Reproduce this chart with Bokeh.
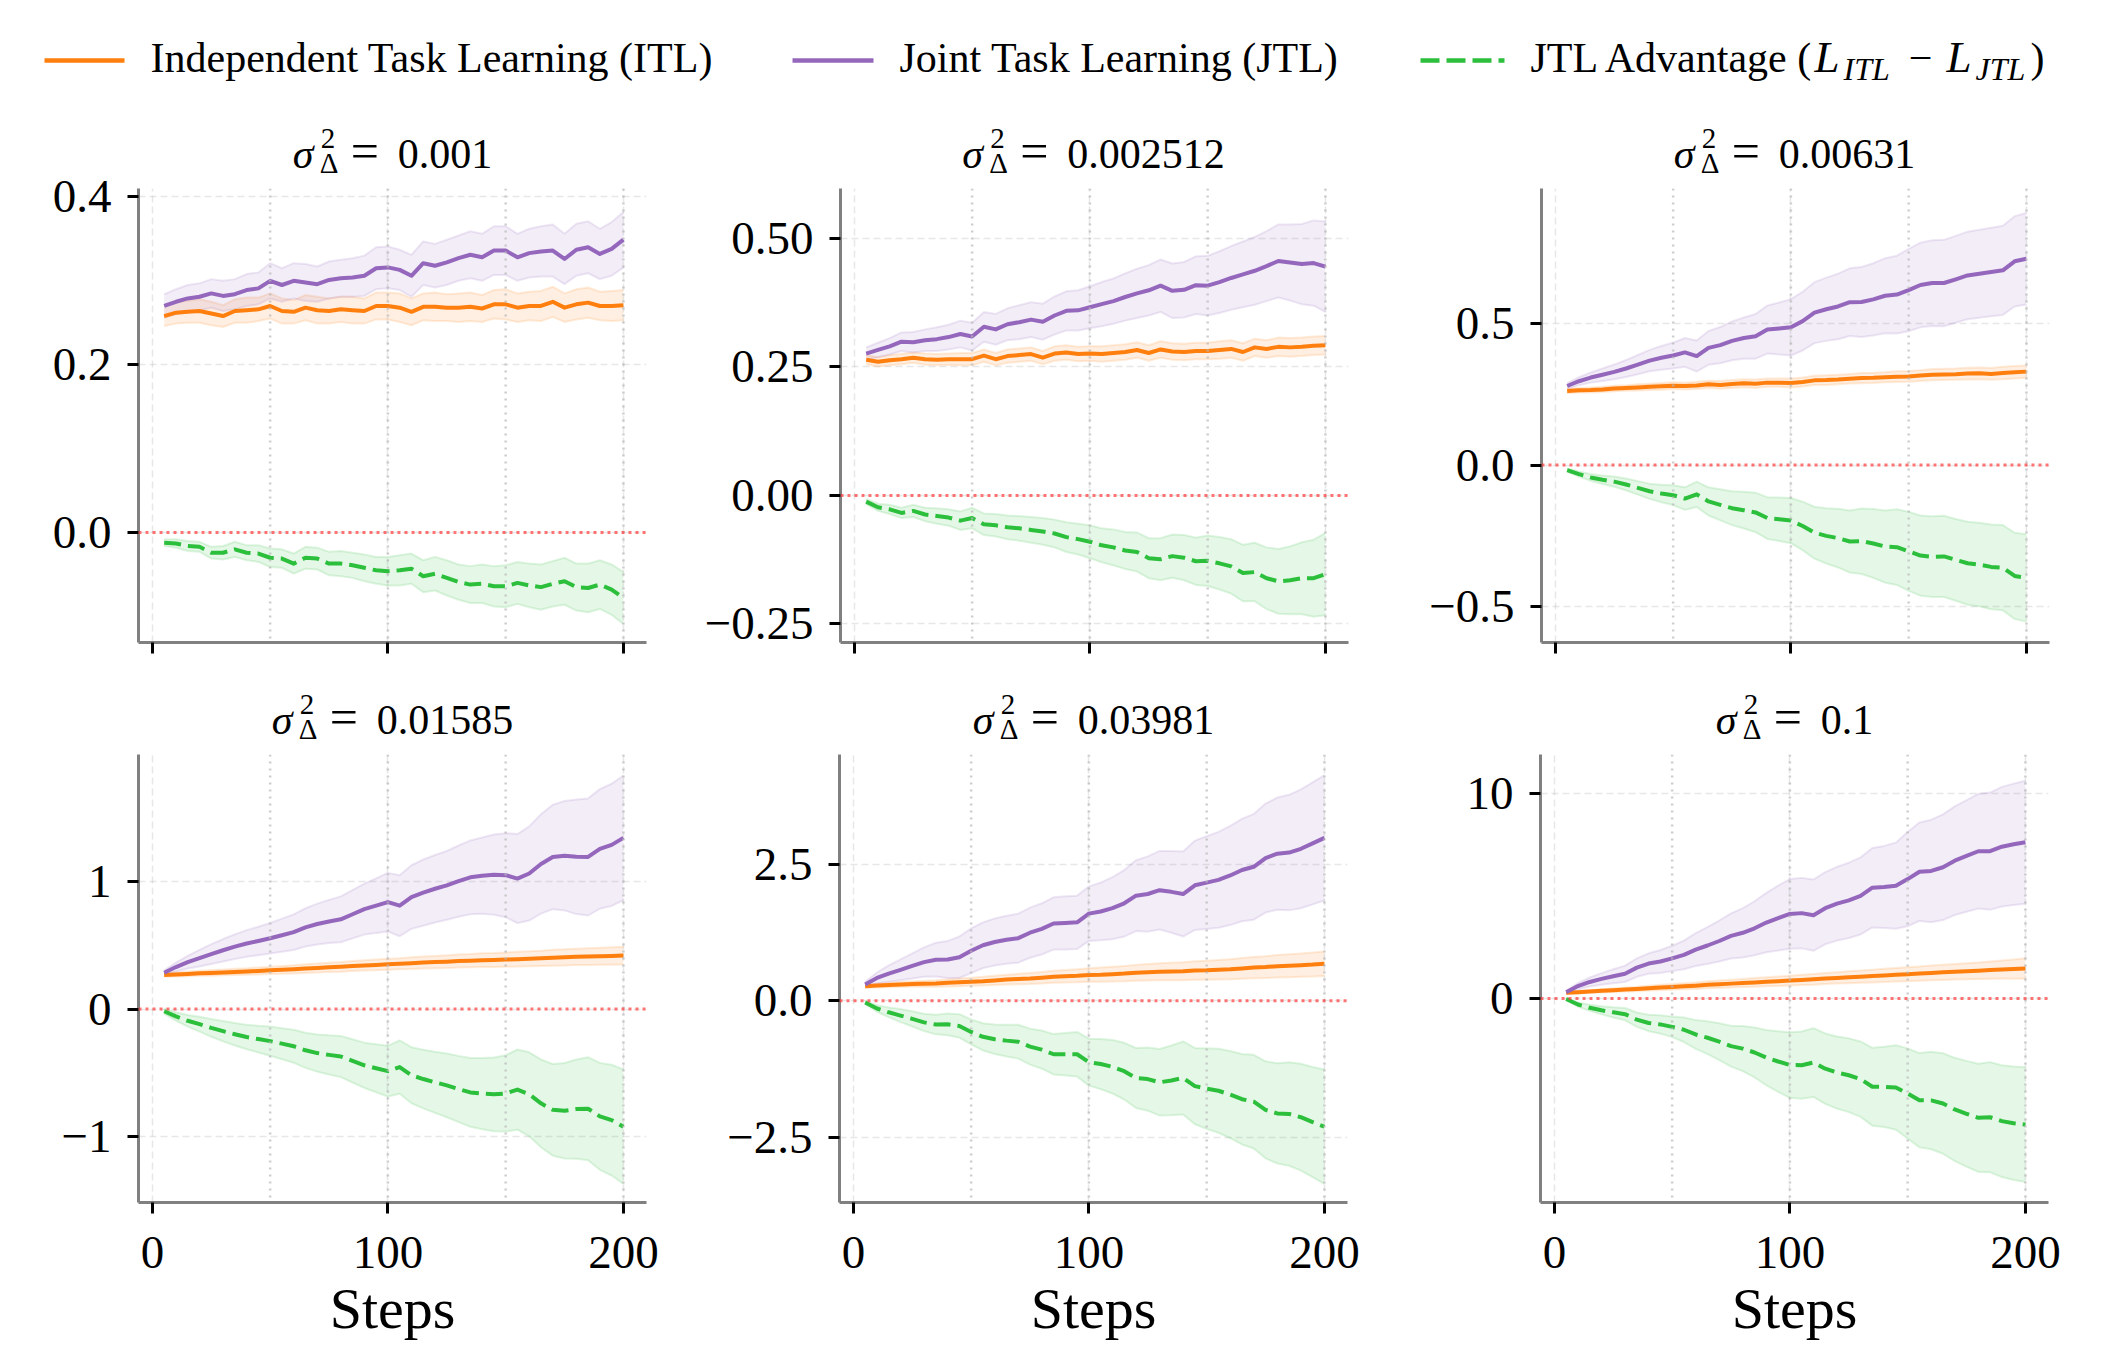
import numpy as np
from bokeh.plotting import figure
from bokeh.models import Range1d, FixedTicker, Span, Label, ColumnDataSource
from bokeh.layouts import column, row
from bokeh.embed import file_html
from bokeh.resources import INLINE

# ---------------------------------------------------------------- data
STEPS = list(range(5, 205, 5))
VARIANCES = ["0.001", "0.002512", "0.00631", "0.01585", "0.03981", "0.1"]

# sigma^2 = 0.001
itl_a = [0.258, 0.262, 0.263, 0.264, 0.261, 0.258, 0.264, 0.265, 0.266, 0.270,
         0.264, 0.263, 0.268, 0.265, 0.264, 0.266, 0.265, 0.264, 0.270, 0.270,
         0.268, 0.263, 0.269, 0.269, 0.268, 0.268, 0.269, 0.267, 0.272, 0.272,
         0.268, 0.270, 0.270, 0.275, 0.268, 0.272, 0.274, 0.270, 0.270, 0.271]
jtl_a = [0.270, 0.275, 0.279, 0.281, 0.285, 0.282, 0.284, 0.289, 0.291, 0.300,
         0.295, 0.300, 0.298, 0.296, 0.301, 0.303, 0.304, 0.306, 0.315, 0.316,
         0.313, 0.306, 0.321, 0.318, 0.322, 0.327, 0.331, 0.328, 0.336, 0.336,
         0.328, 0.333, 0.335, 0.336, 0.326, 0.337, 0.340, 0.332, 0.338, 0.349]
itl_sd_a = [0.012, 0.013, 0.013, 0.014, 0.014, 0.013, 0.014, 0.015, 0.014, 0.015,
            0.015, 0.014, 0.015, 0.016, 0.015, 0.015, 0.016, 0.015, 0.016, 0.016,
            0.017, 0.016, 0.016, 0.017, 0.016, 0.017, 0.017, 0.016, 0.017, 0.018,
            0.017, 0.017, 0.018, 0.018, 0.017, 0.018, 0.018, 0.017, 0.018, 0.018]
jtl_sd_a = [0.014, 0.015, 0.016, 0.016, 0.017, 0.018, 0.018, 0.019, 0.019, 0.021,
            0.020, 0.021, 0.022, 0.021, 0.022, 0.022, 0.023, 0.024, 0.025, 0.025,
            0.024, 0.025, 0.026, 0.026, 0.027, 0.027, 0.028, 0.028, 0.029, 0.029,
            0.028, 0.029, 0.030, 0.031, 0.030, 0.031, 0.031, 0.030, 0.032, 0.033]
adv_sd_a = [0.004, 0.005, 0.006, 0.006, 0.007, 0.008, 0.009, 0.009, 0.010, 0.011,
            0.011, 0.012, 0.013, 0.013, 0.014, 0.015, 0.015, 0.016, 0.016, 0.017,
            0.018, 0.018, 0.019, 0.020, 0.021, 0.021, 0.022, 0.023, 0.024, 0.025,
            0.025, 0.026, 0.027, 0.027, 0.028, 0.028, 0.029, 0.029, 0.030, 0.031]

# sigma^2 = 0.002512
itl_b = [0.264, 0.260, 0.263, 0.265, 0.268, 0.265, 0.264, 0.265, 0.265, 0.265,
         0.272, 0.265, 0.271, 0.273, 0.275, 0.268, 0.276, 0.278, 0.275, 0.276,
         0.275, 0.277, 0.279, 0.283, 0.277, 0.284, 0.280, 0.279, 0.281, 0.281,
         0.283, 0.285, 0.279, 0.288, 0.285, 0.289, 0.288, 0.289, 0.291, 0.292]
jtl_b = [0.276, 0.283, 0.290, 0.299, 0.298, 0.302, 0.304, 0.308, 0.314, 0.309,
         0.328, 0.323, 0.333, 0.337, 0.342, 0.338, 0.350, 0.359, 0.360, 0.366,
         0.372, 0.378, 0.386, 0.393, 0.399, 0.408, 0.398, 0.400, 0.409, 0.408,
         0.415, 0.423, 0.430, 0.437, 0.446, 0.456, 0.453, 0.450, 0.452, 0.445]
itl_sd_b = [0.009, 0.009, 0.010, 0.010, 0.010, 0.011, 0.011, 0.011, 0.012, 0.012,
            0.012, 0.012, 0.013, 0.013, 0.013, 0.013, 0.014, 0.014, 0.014, 0.014,
            0.015, 0.015, 0.015, 0.015, 0.015, 0.016, 0.016, 0.016, 0.016, 0.016,
            0.017, 0.017, 0.017, 0.017, 0.017, 0.018, 0.018, 0.018, 0.018, 0.018]
jtl_sd_b = [0.012, 0.014, 0.016, 0.018, 0.020, 0.021, 0.023, 0.024, 0.026, 0.027,
            0.029, 0.030, 0.031, 0.033, 0.034, 0.035, 0.037, 0.038, 0.039, 0.041,
            0.043, 0.044, 0.046, 0.048, 0.049, 0.051, 0.053, 0.054, 0.056, 0.058,
            0.060, 0.062, 0.064, 0.066, 0.068, 0.071, 0.074, 0.078, 0.083, 0.088]
adv_sd_b = [0.005, 0.007, 0.009, 0.010, 0.012, 0.013, 0.015, 0.016, 0.018, 0.020,
            0.021, 0.022, 0.023, 0.024, 0.025, 0.026, 0.027, 0.029, 0.030, 0.032,
            0.033, 0.035, 0.036, 0.038, 0.039, 0.041, 0.042, 0.044, 0.046, 0.049,
            0.051, 0.053, 0.055, 0.057, 0.060, 0.063, 0.066, 0.070, 0.075, 0.080]

# sigma^2 = 0.00631
itl_c = [0.262, 0.265, 0.266, 0.268, 0.271, 0.273, 0.275, 0.277, 0.279, 0.281,
         0.280, 0.282, 0.286, 0.284, 0.287, 0.290, 0.288, 0.292, 0.292, 0.291,
         0.294, 0.300, 0.301, 0.303, 0.306, 0.308, 0.309, 0.311, 0.313, 0.314,
         0.317, 0.320, 0.321, 0.322, 0.324, 0.325, 0.323, 0.326, 0.329, 0.331]
jtl_c = [0.280, 0.297, 0.310, 0.320, 0.330, 0.342, 0.356, 0.370, 0.380, 0.388,
         0.399, 0.386, 0.415, 0.425, 0.440, 0.450, 0.456, 0.480, 0.484, 0.488,
         0.510, 0.540, 0.552, 0.562, 0.577, 0.578, 0.587, 0.600, 0.604, 0.620,
         0.638, 0.645, 0.645, 0.658, 0.672, 0.678, 0.684, 0.690, 0.722, 0.731]
itl_sd_c = [0.008, 0.008, 0.009, 0.009, 0.010, 0.010, 0.011, 0.011, 0.012, 0.012,
            0.012, 0.013, 0.013, 0.014, 0.014, 0.014, 0.015, 0.015, 0.015, 0.016,
            0.016, 0.016, 0.017, 0.017, 0.017, 0.018, 0.018, 0.018, 0.019, 0.019,
            0.019, 0.020, 0.020, 0.020, 0.021, 0.021, 0.021, 0.022, 0.022, 0.022]
jtl_sd_c = [0.010, 0.014, 0.018, 0.022, 0.026, 0.030, 0.034, 0.038, 0.042, 0.046,
            0.051, 0.055, 0.060, 0.064, 0.069, 0.073, 0.079, 0.085, 0.092, 0.100,
            0.104, 0.108, 0.112, 0.116, 0.120, 0.124, 0.128, 0.133, 0.138, 0.146,
            0.150, 0.152, 0.153, 0.154, 0.155, 0.156, 0.157, 0.158, 0.160, 0.162]
adv_sd_c = [0.006, 0.009, 0.012, 0.015, 0.018, 0.021, 0.024, 0.027, 0.031, 0.035,
            0.040, 0.045, 0.050, 0.055, 0.060, 0.065, 0.070, 0.074, 0.077, 0.080,
            0.086, 0.092, 0.098, 0.104, 0.110, 0.116, 0.122, 0.128, 0.134, 0.140,
            0.142, 0.143, 0.144, 0.145, 0.147, 0.148, 0.150, 0.151, 0.153, 0.155]

# sigma^2 = 0.01585
itl_d = [0.268, 0.272, 0.276, 0.281, 0.284, 0.288, 0.292, 0.295, 0.299, 0.304,
         0.308, 0.312, 0.318, 0.322, 0.328, 0.332, 0.338, 0.343, 0.347, 0.352,
         0.356, 0.360, 0.365, 0.369, 0.372, 0.377, 0.380, 0.384, 0.386, 0.389,
         0.392, 0.395, 0.399, 0.403, 0.406, 0.410, 0.412, 0.415, 0.417, 0.420]
jtl_d = [0.285, 0.330, 0.368, 0.400, 0.432, 0.462, 0.490, 0.515, 0.535, 0.556,
         0.580, 0.604, 0.642, 0.668, 0.688, 0.705, 0.745, 0.785, 0.812, 0.840,
         0.812, 0.880, 0.915, 0.945, 0.972, 1.005, 1.035, 1.048, 1.056, 1.052,
         1.025, 1.065, 1.140, 1.195, 1.205, 1.196, 1.195, 1.258, 1.290, 1.345]
itl_sd_d = [0.015, 0.017, 0.019, 0.020, 0.022, 0.023, 0.025, 0.026, 0.028, 0.029,
            0.031, 0.032, 0.034, 0.035, 0.036, 0.038, 0.039, 0.040, 0.042, 0.043,
            0.044, 0.046, 0.047, 0.048, 0.050, 0.051, 0.052, 0.054, 0.055, 0.056,
            0.058, 0.059, 0.060, 0.062, 0.063, 0.064, 0.066, 0.067, 0.068, 0.070]
jtl_sd_d = [0.020, 0.035, 0.050, 0.065, 0.078, 0.088, 0.097, 0.105, 0.112, 0.120,
            0.130, 0.140, 0.150, 0.160, 0.170, 0.180, 0.190, 0.200, 0.215, 0.230,
            0.240, 0.250, 0.260, 0.265, 0.270, 0.280, 0.290, 0.300, 0.315, 0.330,
            0.350, 0.370, 0.390, 0.410, 0.430, 0.450, 0.460, 0.470, 0.480, 0.490]
adv_sd_d = [0.020, 0.033, 0.046, 0.058, 0.070, 0.080, 0.088, 0.096, 0.105, 0.115,
            0.122, 0.130, 0.138, 0.146, 0.154, 0.162, 0.170, 0.178, 0.189, 0.200,
            0.210, 0.220, 0.230, 0.240, 0.250, 0.260, 0.270, 0.280, 0.290, 0.300,
            0.315, 0.330, 0.345, 0.360, 0.375, 0.390, 0.405, 0.420, 0.435, 0.450]

# sigma^2 = 0.03981
itl_e = [0.27, 0.28, 0.29, 0.30, 0.31, 0.315, 0.32, 0.33, 0.34, 0.35,
         0.36, 0.375, 0.39, 0.40, 0.41, 0.425, 0.44, 0.45, 0.46, 0.475,
         0.48, 0.49, 0.50, 0.515, 0.525, 0.535, 0.54, 0.545, 0.555, 0.56,
         0.57, 0.58, 0.595, 0.61, 0.62, 0.635, 0.645, 0.655, 0.665, 0.68]
jtl_e = [0.30, 0.42, 0.50, 0.57, 0.64, 0.71, 0.755, 0.76, 0.80, 0.92,
         1.02, 1.08, 1.12, 1.15, 1.25, 1.32, 1.42, 1.43, 1.44, 1.60,
         1.64, 1.70, 1.79, 1.93, 1.96, 2.03, 2.00, 1.96, 2.12, 2.17,
         2.22, 2.30, 2.40, 2.46, 2.62, 2.70, 2.72, 2.79, 2.89, 2.99]
itl_sd_e = [0.03, 0.035, 0.04, 0.045, 0.05, 0.055, 0.06, 0.065, 0.07, 0.075,
            0.08, 0.085, 0.09, 0.095, 0.10, 0.105, 0.11, 0.115, 0.12, 0.125,
            0.13, 0.135, 0.14, 0.145, 0.15, 0.155, 0.16, 0.165, 0.17, 0.175,
            0.18, 0.185, 0.19, 0.195, 0.20, 0.205, 0.21, 0.215, 0.22, 0.225]
jtl_sd_e = [0.05, 0.10, 0.15, 0.19, 0.23, 0.27, 0.31, 0.34, 0.38, 0.41,
            0.42, 0.43, 0.44, 0.45, 0.46, 0.47, 0.48, 0.49, 0.49, 0.50,
            0.53, 0.57, 0.61, 0.65, 0.69, 0.72, 0.75, 0.78, 0.82, 0.85,
            0.88, 0.91, 0.94, 0.97, 1.00, 1.03, 1.06, 1.09, 1.12, 1.15]
adv_sd_e = [0.03, 0.06, 0.09, 0.12, 0.14, 0.16, 0.18, 0.20, 0.215, 0.23,
            0.25, 0.27, 0.29, 0.31, 0.33, 0.35, 0.37, 0.39, 0.41, 0.43,
            0.46, 0.49, 0.52, 0.55, 0.58, 0.61, 0.64, 0.67, 0.70, 0.74,
            0.77, 0.80, 0.83, 0.86, 0.89, 0.92, 0.95, 0.98, 1.01, 1.05]

# sigma^2 = 0.1
itl_f = [0.27, 0.30, 0.34, 0.37, 0.40, 0.43, 0.46, 0.50, 0.53, 0.56,
         0.59, 0.62, 0.66, 0.69, 0.72, 0.75, 0.78, 0.81, 0.84, 0.87,
         0.90, 0.93, 0.97, 1.00, 1.03, 1.06, 1.09, 1.12, 1.15, 1.18,
         1.21, 1.24, 1.27, 1.30, 1.32, 1.35, 1.38, 1.41, 1.43, 1.46]
jtl_f = [0.30, 0.60, 0.80, 0.95, 1.08, 1.20, 1.50, 1.70, 1.80, 1.95,
         2.12, 2.38, 2.58, 2.80, 3.05, 3.20, 3.42, 3.70, 3.92, 4.12,
         4.16, 4.06, 4.40, 4.62, 4.78, 5.00, 5.40, 5.44, 5.50, 5.82,
         6.18, 6.22, 6.40, 6.72, 6.95, 7.18, 7.18, 7.40, 7.52, 7.62]
itl_sd_f = [0.05, 0.06, 0.07, 0.08, 0.09, 0.10, 0.11, 0.12, 0.13, 0.14,
            0.15, 0.16, 0.17, 0.18, 0.19, 0.20, 0.21, 0.22, 0.23, 0.24,
            0.25, 0.26, 0.27, 0.28, 0.29, 0.30, 0.31, 0.32, 0.33, 0.34,
            0.35, 0.36, 0.37, 0.38, 0.39, 0.40, 0.42, 0.44, 0.47, 0.50]
jtl_sd_f = [0.08, 0.15, 0.22, 0.28, 0.34, 0.40, 0.45, 0.50, 0.56, 0.62,
            0.70, 0.80, 0.90, 1.00, 1.10, 1.20, 1.32, 1.45, 1.58, 1.70,
            1.72, 1.74, 1.76, 1.80, 1.84, 1.88, 1.94, 2.00, 2.10, 2.30,
            2.40, 2.50, 2.58, 2.65, 2.72, 2.80, 2.86, 2.92, 2.96, 3.00]
adv_sd_f = [0.05, 0.10, 0.15, 0.20, 0.25, 0.30, 0.35, 0.40, 0.45, 0.50,
            0.60, 0.70, 0.80, 0.90, 1.00, 1.10, 1.22, 1.35, 1.48, 1.60,
            1.64, 1.68, 1.72, 1.76, 1.80, 1.84, 1.90, 1.96, 2.06, 2.20,
            2.30, 2.38, 2.45, 2.52, 2.58, 2.64, 2.69, 2.73, 2.77, 2.80]

PANELS = [
    (itl_a, jtl_a, itl_sd_a, jtl_sd_a, adv_sd_a),
    (itl_b, jtl_b, itl_sd_b, jtl_sd_b, adv_sd_b),
    (itl_c, jtl_c, itl_sd_c, jtl_sd_c, adv_sd_c),
    (itl_d, jtl_d, itl_sd_d, jtl_sd_d, adv_sd_d),
    (itl_e, jtl_e, itl_sd_e, jtl_sd_e, adv_sd_e),
    (itl_f, jtl_f, itl_sd_f, jtl_sd_f, adv_sd_f),
]

X_LIMITS = (-5.9, 209.8)
X_TICKS = [0, 100, 200]
Y_LIMITS = [(-0.131, 0.41), (-0.286, 0.597), (-0.629, 0.98),
            (-1.52, 2.0), (-3.70, 4.52), (-9.96, 11.9)]
Y_TICKS = [[0.0, 0.2, 0.4], [-0.25, 0.0, 0.25, 0.5], [-0.5, 0.0, 0.5],
           [-1, 0, 1], [-2.5, 0, 2.5], [-10, 0, 10]]
Y_TICK_LABELS = [["0.0", "0.2", "0.4"], ["\u22120.25", "0.00", "0.25", "0.50"],
                 ["\u22120.5", "0.0", "0.5"], ["\u22121", "0", "1"],
                 ["\u22122.5", "0.0", "2.5"], ["\u221210", "0", "10"]]
MARKER_STEPS = [50, 100, 150, 200]

# ---------------------------------------------------------------- style / geometry
ORANGE = "#ff7f0e"
PURPLE = "#9467bd"
GREEN = "#2cbf3c"
SERIF = "Liberation Serif"

FRAME_W = 508
BORDER_L, BORDER_R = 138, 55
CELL_W = BORDER_L + FRAME_W + BORDER_R
PAGE_W = 3 * CELL_W
ROW_H = [454, 448]
PANEL_TOP = 8
PANEL_BOTTOM = [40, 146]
LEGEND_H = 110
TITLE_H = [70, 64]
MID = 0.33  # distance from text baseline to the middle of its box, in em


def strip(height):
    s = figure(frame_width=PAGE_W, frame_height=height, x_range=Range1d(0, PAGE_W),
               y_range=Range1d(0, height), output_backend="svg", toolbar_location=None,
               tools="", x_axis_type=None, y_axis_type=None,
               min_border_left=0, min_border_right=0, min_border_top=0, min_border_bottom=0)
    s.outline_line_color = None
    s.xgrid.visible = False
    s.ygrid.visible = False
    s.background_fill_color = "white"
    s.border_fill_color = "white"
    return s


def put(s, text, x, base, size, style="normal", align="left"):
    # base: baseline height above the strip's bottom edge, in px
    s.add_layout(Label(x=x, y=base + MID * size, text=text, text_font=SERIF,
                       text_font_size=f"{size}px", text_font_style=style,
                       text_align=align, text_baseline="middle", text_color="black"))


def number_width(s, size):
    return sum(0.25 * size if ch == "." else 0.5 * size for ch in s)


def title_strip(height, labels):
    s = strip(height)
    size = 42
    for j, var_text in enumerate(labels):
        centre = j * CELL_W + BORDER_L + FRAME_W / 2
        total = 105 + number_width(var_text, size)
        start = centre - total / 2
        base = 13
        put(s, "\u03c3", start, base, size, "italic")
        put(s, "2", start + 28, base + 19, 29)
        put(s, "\u0394", start + 27, base - 5, 29)
        put(s, "=", start + 72, base, 50, align="center")
        put(s, var_text, start + 105, base, size)
    return s


def make_panel(i):
    itl, jtl, itl_sd, jtl_sd, adv_sd = PANELS[i]
    r = 0 if i < 3 else 1
    h = ROW_H[r]
    y0, y1 = Y_LIMITS[i]
    p = figure(frame_width=FRAME_W, frame_height=h,
               x_range=Range1d(*X_LIMITS), y_range=Range1d(y0, y1),
               output_backend="svg", toolbar_location=None, tools="",
               min_border_left=BORDER_L, min_border_right=BORDER_R,
               min_border_top=PANEL_TOP, min_border_bottom=PANEL_BOTTOM[r])
    p.outline_line_color = None
    p.background_fill_color = "white"
    p.border_fill_color = "white"

    p.xaxis.ticker = FixedTicker(ticks=X_TICKS)
    p.yaxis.ticker = FixedTicker(ticks=Y_TICKS[i])
    p.yaxis.major_label_overrides = {float(v): s for v, s in zip(Y_TICKS[i], Y_TICK_LABELS[i])}
    for ax in (p.xaxis, p.yaxis):
        ax.axis_line_color = "#808080"
        ax.axis_line_width = 3
        ax.major_tick_line_color = "black"
        ax.major_tick_line_width = 3
        ax.major_tick_out = 11
        ax.major_tick_in = 0
        ax.minor_tick_line_color = None
        ax.major_label_text_font = SERIF
        ax.major_label_text_font_size = "47px"
        ax.major_label_text_color = "black"
    p.yaxis.major_label_standoff = 16
    if r == 0:
        # top row shares the step axis with the row below: ticks only
        p.xaxis.major_label_text_font_size = "1px"
        p.xaxis.major_label_text_alpha = 0
        p.xaxis.major_label_standoff = 0
    else:
        p.xaxis.major_label_standoff = 23
        p.xaxis.axis_label = "Steps"
        p.xaxis.axis_label_text_font = SERIF
        p.xaxis.axis_label_text_font_size = "58px"
        p.xaxis.axis_label_text_font_style = "normal"
        p.xaxis.axis_label_text_color = "black"
        p.xaxis.axis_label_standoff = 5

    for g in (p.xgrid, p.ygrid):
        g.grid_line_color = "#b0b0b0"
        g.grid_line_alpha = 0.3
        g.grid_line_dash = "7 4"
        g.grid_line_width = 1.5

    for v in MARKER_STEPS:
        p.add_layout(Span(location=v, dimension="height", line_color="#b8b8b8",
                          line_alpha=0.7, line_dash="2 5", line_width=2.5))
    p.add_layout(Span(location=0, dimension="width", line_color="#ff3b3b",
                      line_alpha=0.7, line_dash="3 4", line_width=3))

    itl = np.array(itl)
    jtl = np.array(jtl)
    adv = itl - jtl
    series = [
        (itl, np.array(itl_sd), ORANGE, "solid"),
        (jtl, np.array(jtl_sd), PURPLE, "solid"),
        (adv, np.array(adv_sd), GREEN, "17 7"),
    ]
    for mean, sd, color, dash in series:
        src = ColumnDataSource(dict(x=STEPS, lo=mean - sd, hi=mean + sd))
        p.varea(x="x", y1="lo", y2="hi", source=src, fill_color=color, fill_alpha=0.12)
        p.line(x="x", y="lo", source=src, line_color=color, line_alpha=0.15, line_width=2)
        p.line(x="x", y="hi", source=src, line_color=color, line_alpha=0.15, line_width=2)
    for mean, sd, color, dash in series:
        src = ColumnDataSource(dict(x=STEPS, m=mean))
        p.line(x="x", y="m", source=src, line_color=color, line_width=4,
               line_dash=dash, line_join="round")
    return p


# ---------------------------------------------------------------- legend strip
leg = strip(LEGEND_H)
LINE_Y = LEGEND_H - 60
BASE = LEGEND_H - 71
SUB = LEGEND_H - 79
leg.line(x=[44, 124], y=[LINE_Y, LINE_Y], line_color=ORANGE, line_width=4.5)
leg.line(x=[792, 873], y=[LINE_Y, LINE_Y], line_color=PURPLE, line_width=4.5)
leg.line(x=[1420, 1504], y=[LINE_Y, LINE_Y], line_color=GREEN, line_width=4.5,
         line_dash="19 7")
put(leg, "Independent Task Learning (ITL)", 150, BASE, 42)
put(leg, "Joint Task Learning (JTL)", 899, BASE, 42)
put(leg, "JTL Advantage (", 1530, BASE, 42)
put(leg, "L", 1814, BASE, 45, "italic")
put(leg, "ITL", 1843, SUB, 32, "italic")
put(leg, "\u2212", 1920, BASE, 42, align="center")
put(leg, "L", 1946, BASE, 45, "italic")
put(leg, "JTL", 1975, SUB, 32, "italic")
put(leg, ")", 2030, BASE, 42)

panels = [make_panel(i) for i in range(6)]
layout = column(leg,
                title_strip(TITLE_H[0], VARIANCES[:3]), row(*panels[:3]),
                title_strip(TITLE_H[1], VARIANCES[3:]), row(*panels[3:]))

open("out.html", "w").write(file_html(layout, INLINE))
